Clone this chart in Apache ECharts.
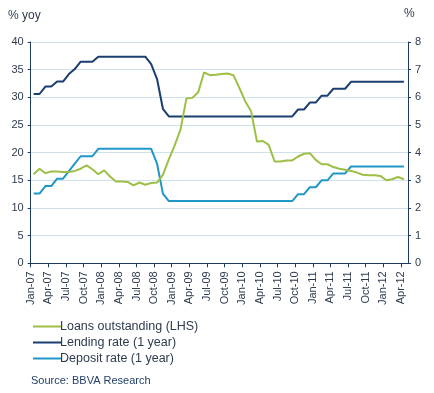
<!DOCTYPE html>
<html>
<head>
<meta charset="utf-8">
<script src="https://cdn.jsdelivr.net/npm/echarts@6/dist/echarts.min.js"></script>
<style>
html,body{margin:0;padding:0;background:#fff;}
#chart{width:434px;height:393px;}
</style>
</head>
<body>
<div id="chart"></div>
<script>
// Month labels on the x axis (one every quarter, Jan-07 .. Apr-12)
var tickLabels = ['Jan-07','Apr-07','Jul-07','Oct-07','Jan-08','Apr-08','Jul-08','Oct-08',
  'Jan-09','Apr-09','Jul-09','Oct-09','Jan-10','Apr-10','Jul-10','Oct-10',
  'Jan-11','Apr-11','Jul-11','Oct-11','Jan-12','Apr-12'];

// Monthly values, Jan-07 .. Apr-12 (64 months)
var loans = [16.1,17.1,16.3,16.6,16.6,16.5,16.5,16.7,17.1,17.7,17.0,16.1,
  16.8,15.7,14.8,14.8,14.7,14.1,14.6,14.2,14.5,14.6,16.0,18.8,
  21.3,24.2,29.8,29.9,30.9,34.5,34.0,34.1,34.2,34.3,34.0,31.7,
  29.3,27.5,22.0,22.1,21.4,18.4,18.4,18.6,18.6,19.3,19.8,19.9,
  18.7,17.9,17.9,17.4,17.1,16.9,16.7,16.4,16.0,15.9,15.9,15.8,
  15.0,15.2,15.6,15.2];
var lending = [6.12,6.12,6.39,6.39,6.57,6.57,6.84,7.02,7.29,7.29,7.29,7.47,
  7.47,7.47,7.47,7.47,7.47,7.47,7.47,7.47,7.20,6.66,5.58,5.31,
  5.31,5.31,5.31,5.31,5.31,5.31,5.31,5.31,5.31,5.31,5.31,5.31,
  5.31,5.31,5.31,5.31,5.31,5.31,5.31,5.31,5.31,5.56,5.56,5.81,
  5.81,6.06,6.06,6.31,6.31,6.31,6.56,6.56,6.56,6.56,6.56,6.56,
  6.56,6.56,6.56,6.56];
var deposit = [2.52,2.52,2.79,2.79,3.06,3.06,3.33,3.60,3.87,3.87,3.87,4.14,
  4.14,4.14,4.14,4.14,4.14,4.14,4.14,4.14,4.14,3.60,2.52,2.25,
  2.25,2.25,2.25,2.25,2.25,2.25,2.25,2.25,2.25,2.25,2.25,2.25,
  2.25,2.25,2.25,2.25,2.25,2.25,2.25,2.25,2.25,2.50,2.50,2.75,
  2.75,3.00,3.00,3.25,3.25,3.25,3.50,3.50,3.50,3.50,3.50,3.50,
  3.50,3.50,3.50,3.50];

var seriesNames = ['Loans outstanding (LHS)','Lending rate (1 year)','Deposit rate (1 year)'];

function toPairs(arr){
  return arr.map(function(v,i){ return [i+0.5, v]; });
}

var txt = '#2E3B4E';
var axisCol = '#1F3A5C';
var font = 'Liberation Sans, Arial, sans-serif';

var chart = echarts.init(document.getElementById('chart'), null, {renderer:'canvas'});
chart.setOption({
  animation:false,
  backgroundColor:'#ffffff',
  textStyle:{fontFamily:font},
  grid:{left:30.7, right:26, top:42, bottom:129.7, containLabel:false},
  xAxis:{
    type:'value', min:0, max:64.2, interval:3,
    axisLine:{show:true, lineStyle:{color:axisCol, width:1}},
    axisTick:{show:true, length:4, lineStyle:{color:axisCol}},
    splitLine:{show:false},
    axisLabel:{
      rotate:90, fontSize:11, color:txt, fontFamily:font, margin:8,
      showMaxLabel:false,
      formatter:function(v){
        var k = Math.round(v);
        if (Math.abs(v-k) > 1e-6 || k % 3 !== 0) return '';
        return tickLabels[k/3] || '';
      }
    }
  },
  yAxis:[{
    type:'value', min:0, max:40, interval:5, position:'left',
    axisLine:{show:true, lineStyle:{color:axisCol}},
    axisTick:{show:true, length:3, lineStyle:{color:axisCol}},
    splitLine:{show:true, lineStyle:{color:'#CFE2EC', width:1}},
    axisLabel:{fontSize:11, color:txt, fontFamily:font, margin:7}
  },{
    type:'value', min:0, max:8, interval:1, position:'right',
    axisLine:{show:true, lineStyle:{color:axisCol}},
    axisTick:{show:true, length:3, lineStyle:{color:axisCol}},
    splitLine:{show:false},
    axisLabel:{fontSize:11, color:txt, fontFamily:font, margin:7}
  }],
  legend:{
    orient:'vertical', left:28, top:315, itemWidth:28, itemHeight:2, itemGap:3,
    icon:'rect',
    textStyle:{fontSize:12.5, color:txt, fontFamily:font, padding:[0,0,0,-6]},
    data:seriesNames
  },
  graphic:[
    {type:'text', left:8, top:10, style:{text:'% yoy', fontSize:12, fill:txt, fontFamily:font}},
    {type:'text', left:404, top:8, style:{text:'%', fontSize:12, fill:txt, fontFamily:font}},
    {type:'text', left:31, top:375, style:{text:'Source: BBVA Research', fontSize:11, fill:'#24406A', fontFamily:font}}
  ],
  series:[
    {name:seriesNames[0], type:'line', yAxisIndex:0, data:toPairs(loans), showSymbol:false,
     lineStyle:{color:'#9DBF45', width:2}, itemStyle:{color:'#9DBF45'}, z:3},
    {name:seriesNames[1], type:'line', yAxisIndex:1, data:toPairs(lending), showSymbol:false,
     lineStyle:{color:'#1B3E70', width:2}, itemStyle:{color:'#1B3E70'}, z:2},
    {name:seriesNames[2], type:'line', yAxisIndex:1, data:toPairs(deposit), showSymbol:false,
     lineStyle:{color:'#2196C8', width:2}, itemStyle:{color:'#2196C8'}, z:2}
  ]
});
</script>
</body>
</html>
